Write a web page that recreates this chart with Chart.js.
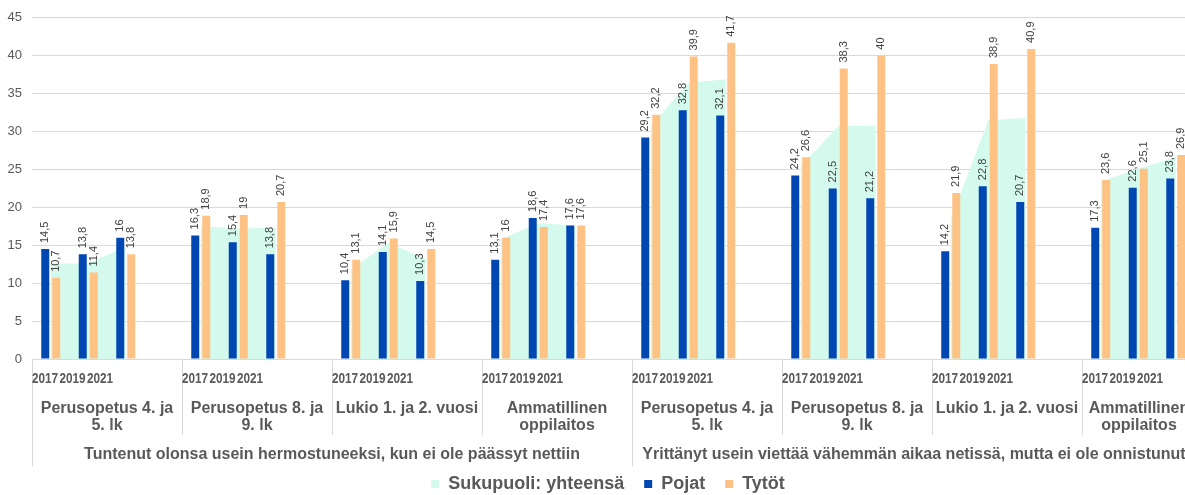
<!DOCTYPE html>
<html><head><meta charset="utf-8">
<script src="https://cdn.jsdelivr.net/npm/chart.js@4.4.1/dist/chart.umd.min.js"></script>
<style>
html,body{margin:0;padding:0;overflow:hidden;background:#fff;width:1185px;height:495px}
canvas{display:block}
</style>
</head><body>
<canvas id="c" width="1240" height="495"></canvas>
<script>
// ---- data ----
const years = ['2017', '2019', '2021'];
const schoolLevels = [['Perusopetus 4. ja', '5. lk'], ['Perusopetus 8. ja', '9. lk'], ['Lukio 1. ja 2. vuosi'], ['Ammatillinen', 'oppilaitos']];
const questions = ['Tuntenut olonsa usein hermostuneeksi, kun ei ole päässyt nettiin', 'Yrittänyt usein viettää vähemmän aikaa netissä, mutta ei ole onnistunut'];
const seriesNames = ['Sukupuoli: yhteensä', 'Pojat', 'Tytöt'];
const yTicks = [0, 5, 10, 15, 20, 25, 30, 35, 40, 45];

const yhteensa = [12.6, 12.6, 14.8, 17.5, 17.2, 17.3, 11.8, 15.3, 13.2, 15.8, 17.9, 17.6,
                  30.7, 36.4, 36.9, 25.4, 30.7, 30.8, 18.4, 31.5, 31.8, 23.4, 25.1, 26.6];
const pojat = [14.5, 13.8, 16, 16.3, 15.4, 13.8, 10.4, 14.1, 10.3, 13.1, 18.6, 17.6,
               29.2, 32.8, 32.1, 24.2, 22.5, 21.2, 14.2, 22.8, 20.7, 17.3, 22.6, 23.8];
const tytot = [10.7, 11.4, 13.8, 18.9, 19, 20.7, 13.1, 15.9, 14.5, 16, 17.4, 17.6,
               32.2, 39.9, 41.7, 26.6, 38.3, 40, 21.9, 38.9, 40.9, 23.6, 25.1, 26.9];

// ---- build slots: 3 years + one empty slot per school level ----
const categories = [];
function withGaps(arr) {
  const out = [];
  let i = 0;
  questions.forEach(() => schoolLevels.forEach(() => {
    years.forEach(() => out.push(arr[i++]));
    out.push(null);
  }));
  return out;
}
questions.forEach(() => schoolLevels.forEach(() => { years.forEach(y => categories.push(y)); categories.push(''); }));

const FONT = "'Liberation Sans', Arial, sans-serif";
const GRAY = '#595959';
const GRID = '#d9d9d9';
const labelClipRight = 1196;

const dataLabels = {
  id: 'dataLabels',
  afterDatasetsDraw(chart) {
    const ctx = chart.ctx;
    ctx.save();
    ctx.font = '11px ' + FONT;
    ctx.fillStyle = '#404040';
    ctx.textAlign = 'left';
    ctx.textBaseline = 'middle';
    chart.data.datasets.forEach((ds, di) => {
      if (ds.type === 'line') return;
      const meta = chart.getDatasetMeta(di);
      meta.data.forEach((el, i) => {
        const v = ds.data[i];
        if (v === null || v === undefined) return;
        ctx.save();
        ctx.translate(el.x, el.y - 6);
        ctx.rotate(-Math.PI / 2);
        ctx.fillText(String(v).replace('.', ','), 0, 0);
        ctx.restore();
      });
    });
    ctx.restore();
  }
};

const multiLevelAxis = {
  id: 'multiLevelAxis',
  afterLayout(chart) {
    const lg = chart.legend;
    if (lg) {
      const dx = 608 - (lg.left + lg.right) / 2;
      lg.left += dx; lg.right += dx;
      lg.top += 8; lg.bottom += 8;
    }
  },
  afterDraw(chart) {
    const ctx = chart.ctx;
    const xs = chart.scales.x;
    const slot = xs.getPixelForValue(1) - xs.getPixelForValue(0);
    const base = chart.chartArea.bottom;
    const perQ = schoolLevels.length;
    const perG = years.length + 1;
    ctx.save();
    ctx.strokeStyle = GRID;
    ctx.lineWidth = 1;
    ctx.fillStyle = GRAY;
    let g = 0;
    questions.forEach((q, qi) => {
      schoolLevels.forEach((lines, si) => {
        const left = xs.getPixelForValue(g * perG) - slot / 2;
        const right = left + perG * slot;
        const lx = Math.round(left) + 0.5;
        ctx.beginPath();
        ctx.moveTo(lx, base);
        ctx.lineTo(lx, base + (si === 0 ? 107 : 76));
        ctx.stroke();
        // years
        ctx.font = 'bold 14px ' + FONT;
        ctx.textAlign = 'center';
        ctx.textBaseline = 'alphabetic';
        years.forEach((y, k) => {
          ctx.save();
          ctx.translate(left + 13 + k * 27.5, base + 24);
          ctx.scale(0.84, 1);
          ctx.fillText(y, 0, 0);
          ctx.restore();
        });
        // school level
        ctx.font = 'bold 16px ' + FONT;
        const cx = (left + Math.min(right, labelClipRight)) / 2;
        lines.forEach((t, li) => ctx.fillText(t, cx, base + 54 + li * 17));
        g++;
      });
      const qLeft = xs.getPixelForValue(qi * perQ * perG) - slot / 2;
      const qRight = qLeft + perQ * perG * slot;
      ctx.font = 'bold 16px ' + FONT;
      ctx.fillText(q, (qLeft + Math.min(qRight, labelClipRight)) / 2, base + 100);
    });
    ctx.restore();
  }
};

new Chart(document.getElementById('c'), {
  type: 'bar',
  data: {
    labels: categories,
    datasets: [
      { type: 'line', label: seriesNames[0], data: withGaps(yhteensa), fill: 'origin',
        backgroundColor: '#d3faec', borderColor: '#d3faec', borderWidth: 0, pointRadius: 0,
        tension: 0, spanGaps: false, order: 2 },
      { label: seriesNames[1], data: withGaps(pojat), backgroundColor: '#0047b3', order: 1,
        categoryPercentage: 0.5867, barPercentage: 0.727 },
      { label: seriesNames[2], data: withGaps(tytot), backgroundColor: '#ffc285', order: 1,
        categoryPercentage: 0.5867, barPercentage: 0.727 }
    ]
  },
  options: {
    responsive: false,
    animation: false,
    layout: { padding: { top: 15, right: 8, bottom: 0, left: 0 } },
    plugins: {
      tooltip: { enabled: false },
      legend: {
        position: 'bottom',
        labels: {
          boxWidth: 8, boxHeight: 8, padding: 20, color: GRAY,
          font: { family: FONT, size: 18, weight: 'bold' },
          sort: (a, b) => a.datasetIndex - b.datasetIndex
        }
      }
    },
    scales: {
      x: {
        offset: true,
        ticks: { display: false },
        grid: { display: false },
        border: { display: false },
        afterFit: (s) => { s.height = 88; }
      },
      y: {
        min: yTicks[0], max: yTicks[yTicks.length - 1],
        afterBuildTicks: (s) => { s.ticks = yTicks.map(v => ({ value: v })); },
        ticks: { color: GRAY, padding: 10, font: { family: FONT, size: 13 } },
        grid: { color: GRID, drawTicks: false },
        border: { display: false },
        afterFit: (s) => { s.width = 32; }
      }
    }
  },
  plugins: [dataLabels, multiLevelAxis]
});
</script>
</body></html>
